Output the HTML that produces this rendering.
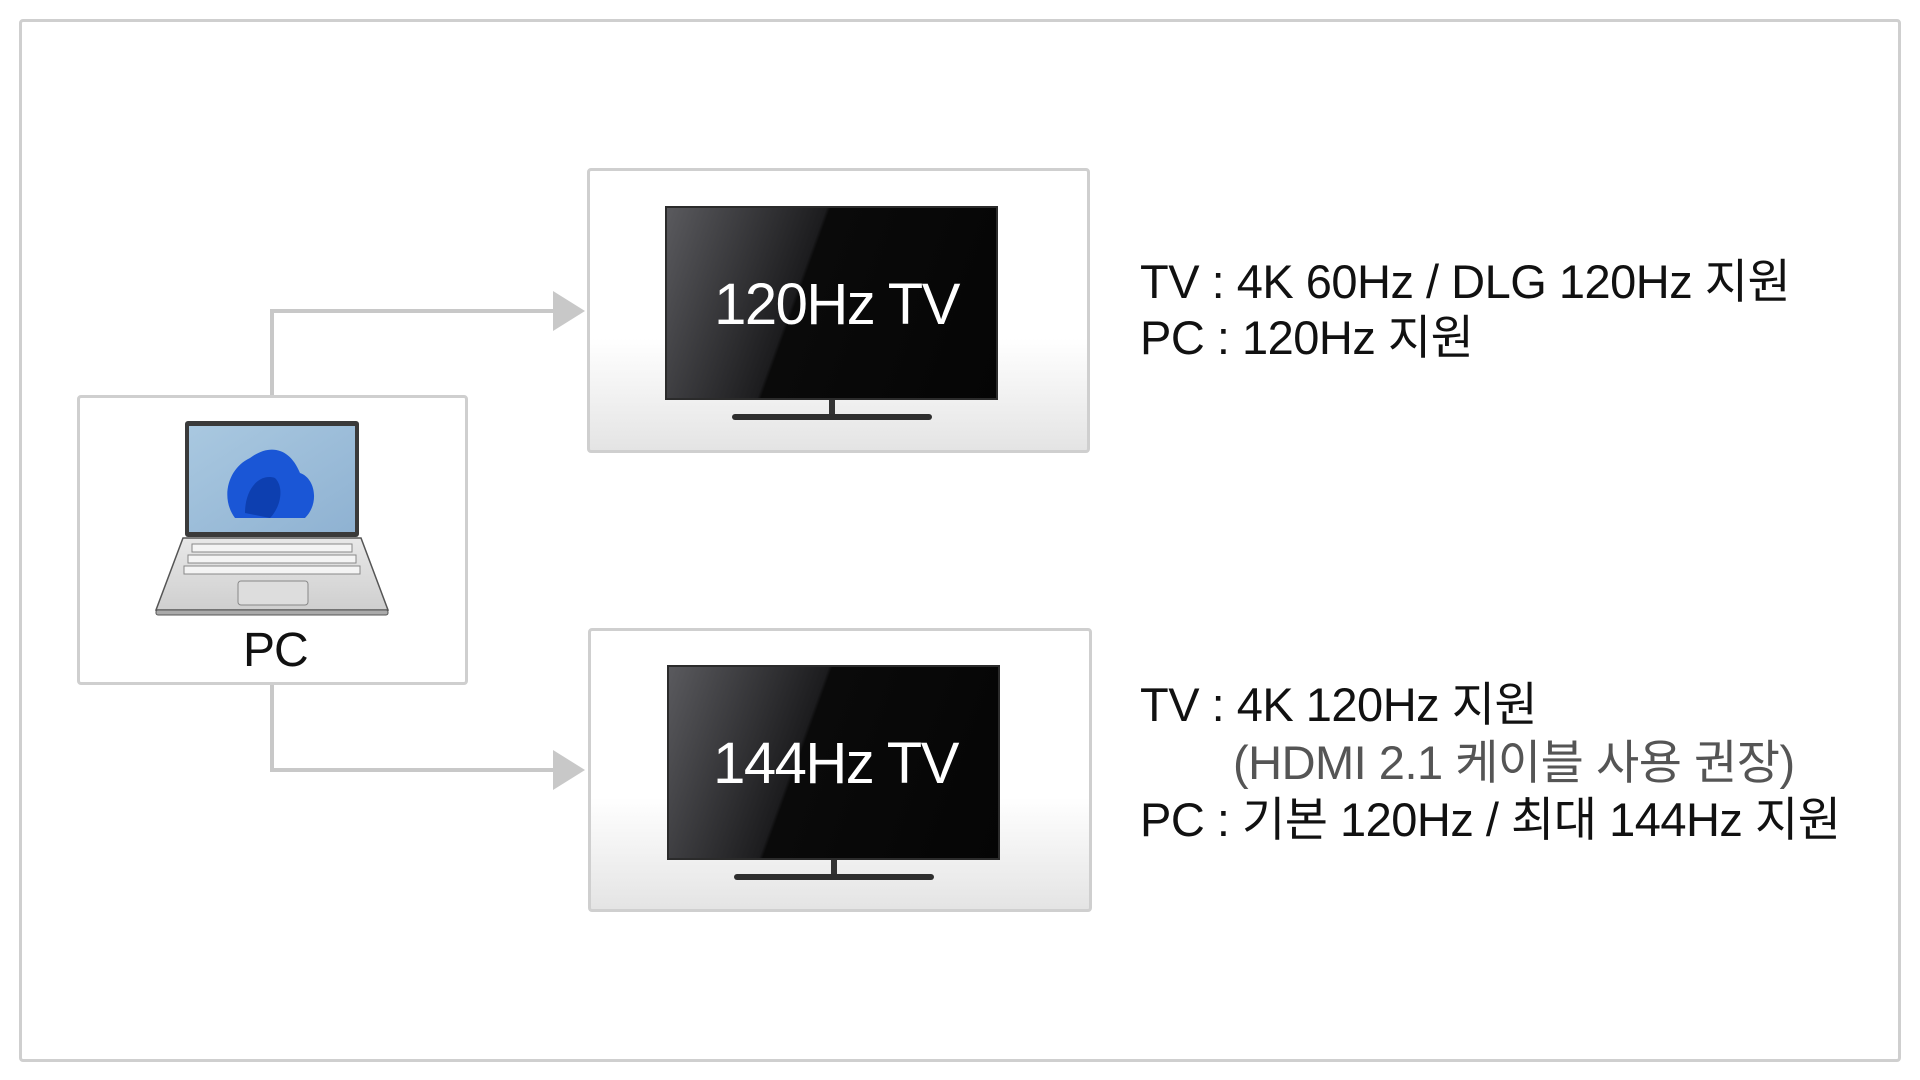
<!DOCTYPE html>
<html><head><meta charset="utf-8"><style>
body{margin:0;width:1920px;height:1080px;background:#fff;position:relative;overflow:hidden;font-family:"Liberation Sans","Noto Sans CJK KR",sans-serif}
.abs{position:absolute}
.box{position:absolute;border:3px solid #cfcfcf;border-radius:4px;box-sizing:border-box}
.t{position:absolute;color:#111;font-size:47px;letter-spacing:-0.5px;white-space:nowrap;line-height:1}
</style></head><body>
<div class="box" style="left:19px;top:19px;width:1882px;height:1043px"></div>
<svg class="abs" style="left:0;top:0" width="1920" height="1080">
 <polyline points="272,396 272,311 556,311" fill="none" stroke="#c8c8c8" stroke-width="4"/>
 <polygon points="553,291 585,311 553,331" fill="#c8c8c8"/>
 <polyline points="272,684 272,770 556,770" fill="none" stroke="#c8c8c8" stroke-width="4"/>
 <polygon points="553,750 585,770 553,790" fill="#c8c8c8"/>
</svg>
<div class="box" style="left:77px;top:395px;width:391px;height:290px"></div>
<svg class="abs" style="left:150px;top:418px" width="245" height="200" viewBox="0 0 245 200">
 <defs><linearGradient id="sc" x1="0" y1="0" x2="1" y2="1"><stop offset="0" stop-color="#a9c8e0"/><stop offset="1" stop-color="#8fb2d2"/></linearGradient>
 <linearGradient id="kb" x1="0" y1="0" x2="0" y2="1"><stop offset="0" stop-color="#e8e8e8"/><stop offset="1" stop-color="#cfcfcf"/></linearGradient></defs>
 <rect x="35" y="3" width="174" height="116" rx="3" fill="#3a3a3a"/>
 <rect x="39" y="8" width="166" height="106" fill="url(#sc)"/>
 <path d="M85 100 C70 80 78 50 100 40 C120 25 140 30 150 55 C165 60 170 85 155 100 Z" fill="#1a56d6"/>
 <path d="M95 95 C95 70 110 55 125 60 C135 70 130 90 120 100 Z" fill="#0d3fb0"/>
 <path d="M33 120 L211 120 L238 192 L6 192 Z" fill="url(#kb)" stroke="#555" stroke-width="1.5"/>
 <rect x="6" y="192" width="232" height="5" rx="2" fill="#aaa" stroke="#555" stroke-width="1"/>
 <g stroke="#888" stroke-width="1" fill="#f4f4f4">
  <rect x="42" y="126" width="160" height="8"/><rect x="38" y="137" width="168" height="8"/><rect x="34" y="148" width="176" height="8"/>
 </g>
 <rect x="88" y="163" width="70" height="24" rx="3" fill="#ddd" stroke="#888"/>
</svg>
<div class="t" style="left:243px;top:627px;font-size:48px;letter-spacing:-1px">PC</div>

<div class="box" style="left:587px;top:168px;width:503px;height:285px;background:linear-gradient(#fff 60%,#e4e4e4)"></div>
<div class="abs" style="left:665px;top:206px;width:333px;height:194px;background:linear-gradient(110deg,#5a5a5e 0%,#1c1c1e 40%,#0a0a0a 41%,#050505 100%);border:2px solid #2b2b2b;box-sizing:border-box"></div>
<div class="abs" style="left:829px;top:400px;width:6px;height:16px;background:#333"></div>
<div class="abs" style="left:732px;top:414px;width:200px;height:6px;background:#2e2e2e;border-radius:3px"></div>
<div class="t" style="left:670px;top:276px;width:333px;text-align:center;color:#fff;font-size:58px;letter-spacing:-1.5px">120Hz TV</div>

<div class="box" style="left:588px;top:628px;width:504px;height:284px;background:linear-gradient(#fff 60%,#e4e4e4)"></div>
<div class="abs" style="left:667px;top:665px;width:333px;height:195px;background:linear-gradient(110deg,#5a5a5e 0%,#1c1c1e 40%,#0a0a0a 41%,#050505 100%);border:2px solid #2b2b2b;box-sizing:border-box"></div>
<div class="abs" style="left:831px;top:860px;width:6px;height:16px;background:#333"></div>
<div class="abs" style="left:734px;top:874px;width:200px;height:6px;background:#2e2e2e;border-radius:3px"></div>
<div class="t" style="left:669px;top:735px;width:333px;text-align:center;color:#fff;font-size:58px;letter-spacing:-1.5px">144Hz TV</div>

<div class="t" style="left:1140px;top:258px">TV : 4K 60Hz / DLG 120Hz 지원</div>
<div class="t" style="left:1140px;top:314px">PC : 120Hz 지원</div>
<div class="t" style="left:1140px;top:681px">TV : 4K 120Hz 지원</div>
<div class="t" style="left:1233px;top:739px;color:#555">(HDMI 2.1 케이블 사용 권장)</div>
<div class="t" style="left:1140px;top:796px">PC : 기본 120Hz / 최대 144Hz 지원</div>
</body></html>
